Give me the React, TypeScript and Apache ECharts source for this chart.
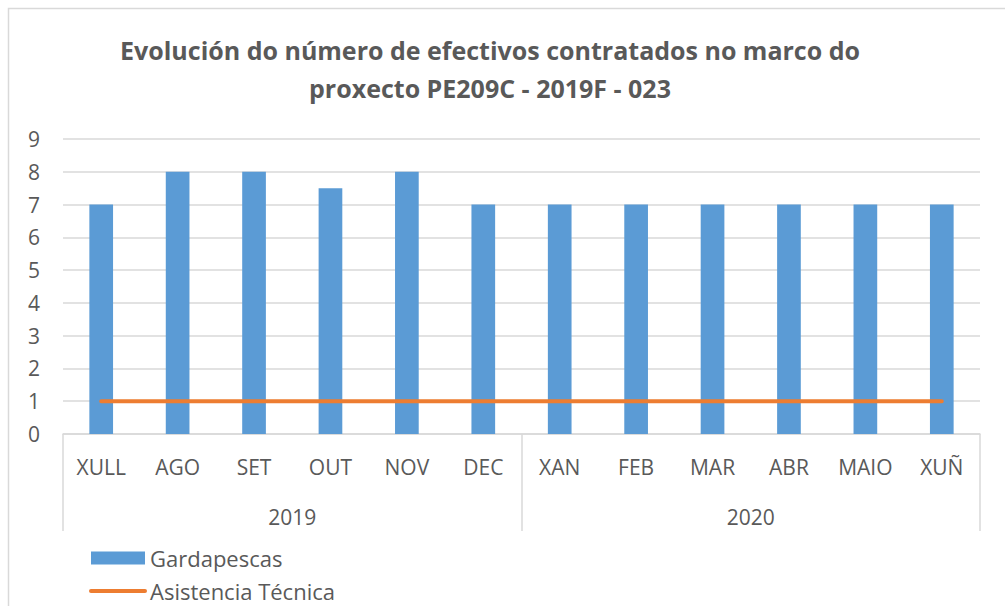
import React, { useEffect, useRef } from "react";
import * as echarts from "echarts";

const titleText = "Evolución do número de efectivos contratados no marco do\nproxecto PE209C - 2019F - 023";
const months = ["XULL", "AGO", "SET", "OUT", "NOV", "DEC", "XAN", "FEB", "MAR", "ABR", "MAIO", "XUÑ"];
const years = ["2019", "2020"];
const gardapescas = [7, 8, 8, 7.5, 8, 7, 7, 7, 7, 7, 7, 7];
const asistencia = [1, 1, 1, 1, 1, 1, 1, 1, 1, 1, 1, 1];
const seriesNames = ["Gardapescas", "Asistencia Técnica"];

const FONT = "'Open Sans', 'Liberation Sans', sans-serif";
const GRAY = "#595959";
const LINE = "#d9d9d9";

export default function App() {
  const ref = useRef<HTMLDivElement>(null);
  useEffect(() => {
    if (!ref.current) return;
    const chart = echarts.init(ref.current, null, { renderer: "svg" });
    chart.setOption({
      animation: false,
      backgroundColor: "#ffffff",
      textStyle: { fontFamily: FONT },
      title: {
        text: titleText,
        left: 485,
        textAlign: "center",
        top: 26,
        textStyle: { fontFamily: FONT, fontSize: 25, fontWeight: "bold", color: GRAY, lineHeight: 38 },
      },
      graphic: [
        {
          type: "rect",
          shape: { x: 8.5, y: 8.5, width: 1200, height: 800 },
          style: { fill: "none", stroke: LINE, lineWidth: 1.5 },
          silent: true,
        },
      ],
      legend: {
        orient: "vertical",
        left: 89,
        top: 547,
        padding: 0,
        height: 80,
        itemWidth: 54,
        itemHeight: 13,
        itemGap: 11,
        data: [
          { name: seriesNames[0], icon: "rect" },
          { name: seriesNames[1], itemStyle: { opacity: 0 }, lineStyle: { width: 4, cap: "round", color: "#ed7d31" } },
        ],
        textStyle: { fontFamily: FONT, fontSize: 22, color: GRAY, lineHeight: 22 },
      },
      grid: { left: 63, right: 25, top: 139, bottom: 172, containLabel: false },
      xAxis: [
        {
          type: "category",
          data: months,
          position: "bottom",
          axisLine: { show: true, lineStyle: { color: LINE, width: 1.5 } },
          axisTick: {
            show: true,
            length: 97,
            interval: (index: number) => index % 6 === 0,
            lineStyle: { color: LINE, width: 1.5 },
          },
          axisLabel: { interval: 0, margin: 22, fontSize: 21, color: GRAY, fontFamily: FONT },
        },
        {
          type: "category",
          data: years,
          position: "bottom",
          axisLine: { show: false },
          axisTick: { show: false },
          axisLabel: { interval: 0, margin: 72, fontSize: 21, color: GRAY, fontFamily: FONT },
        },
      ],
      yAxis: {
        type: "value",
        min: 0,
        max: 9,
        interval: 1,
        axisLine: { show: false },
        axisTick: { show: false },
        splitLine: { lineStyle: { color: LINE, width: 1.5 } },
        axisLabel: { margin: 23, fontSize: 21, color: GRAY, fontFamily: FONT },
      },
      series: [
        {
          name: seriesNames[0],
          type: "bar",
          xAxisIndex: 0,
          data: gardapescas,
          barWidth: "31%",
          itemStyle: { color: "#5b9bd5" },
        },
        {
          name: seriesNames[1],
          type: "line",
          xAxisIndex: 0,
          data: asistencia,
          symbol: "none",
          lineStyle: { color: "#ed7d31", width: 4, cap: "round" },
          itemStyle: { color: "#ed7d31" },
        },
      ],
    });
    return () => chart.dispose();
  }, []);
  return (
    <div
      ref={ref}
      style={{ position: "absolute", left: 0, top: 0, width: 1005, height: 606 }}
    />
  );
}
